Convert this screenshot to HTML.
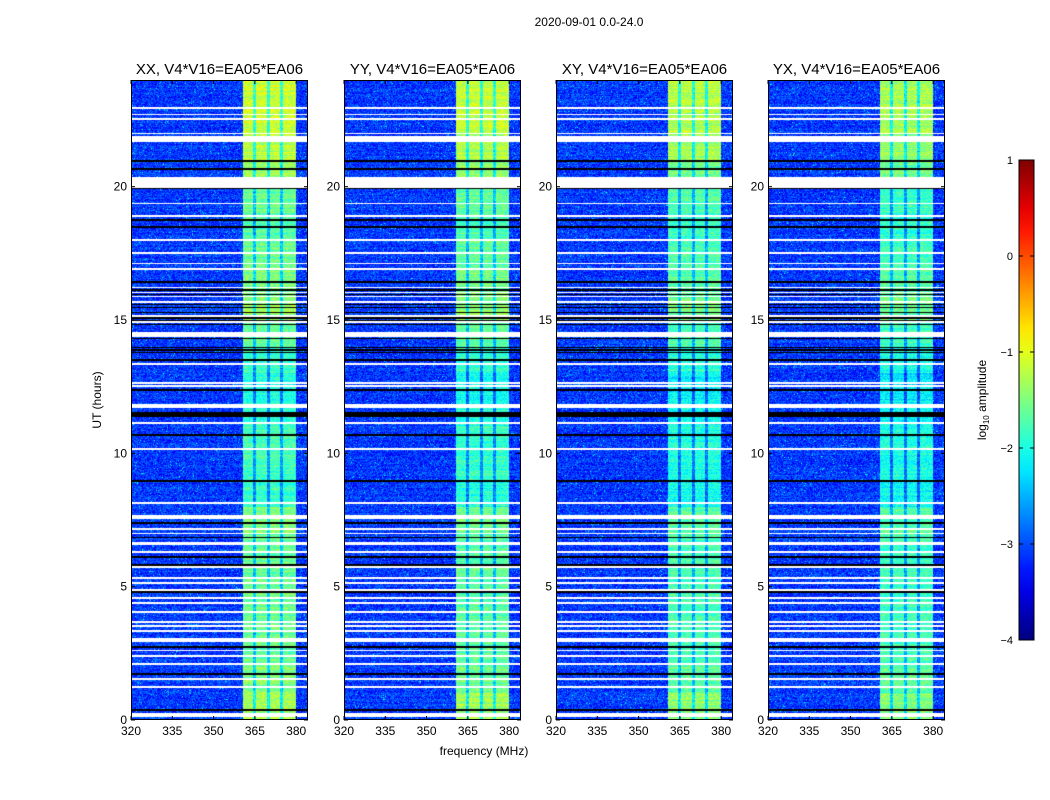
<!DOCTYPE html>
<html><head><meta charset="utf-8"><style>
body{margin:0;background:#fff;width:1050px;height:800px;overflow:hidden;font-family:"Liberation Sans",sans-serif;}
svg text{font-family:"Liberation Sans",sans-serif;}
canvas{position:absolute;}
</style></head><body>
<div id="wrap" style="position:relative;width:1050px;height:800px;">
<svg id="svg" width="1050" height="800" style="position:absolute;left:0;top:0"></svg>
</div>
<script>
// ---- data ----
const panelTitles = ["XX, V4*V16=EA05*EA06","YY, V4*V16=EA05*EA06","XY, V4*V16=EA05*EA06","YX, V4*V16=EA05*EA06"];
const xTicks = [320,335,350,365,380];
const yTicks = [0,5,10,15,20];
const cbTicks = [1,0,-1,-2,-3,-4];
const bandEdges = [360.8,380];
const bandStripes = [364.9,370,374.7];
// hourly band level (log10 amplitude), hours 0..23
const bandLevel = [-1.3,-1.5,-1.6,-1.6,-1.6,-1.6,-1.6,-1.5,-1.9,-1.8,-1.8,-1.9,-2.0,-1.8,-1.6,-1.4,-1.5,-1.6,-1.7,-1.6,-1.4,-1.2,-1.1,-1.1];
const panelOffset = [0,-0.05,-0.15,-0.2];
const bgLevel = -3.1;
// flagged (white) time ranges [start,end] hours
const whiteRows = [[22.9,22.97],[22.68,22.74],[22.51,22.57],[21.97,22.03],[21.84,21.9],[21.76,21.81],[21.68,21.74],[20.15,20.35],[19.94,20.12],[19.34,19.4],[18.88,18.94],[17.97,18.03],[17.49,17.55],[17.09,17.15],[16.88,16.94],[16.2,16.25],[16.0,16.05],[15.85,15.9],[15.65,15.7],[15.12,15.17],[14.9,14.95],[14.37,14.56],[13.32,13.38],[12.61,12.67],[12.49,12.55],[11.78,11.84],[11.71,11.77],[11.1,11.16],[10.13,10.19],[8.1,8.16],[7.55,7.7],[7.13,7.19],[6.97,7.03],[6.57,6.67],[6.27,6.33],[5.71,5.77],[5.29,5.35],[5.11,5.17],[4.84,4.9],[4.54,4.6],[4.36,4.42],[4.02,4.08],[3.64,3.7],[3.49,3.55],[3.31,3.37],[2.94,3.09],[2.57,2.63],[2.37,2.43],[2.07,2.13],[1.5,1.56],[1.21,1.27],[0.12,0.28]];
// black (zero) time ranges
const blackRows = [[20.94,21.0],[20.63,20.69],[19.9,19.96],[18.72,18.8],[18.46,18.52],[16.4,16.47],[16.1,16.15],[15.92,15.96],[15.55,15.6],[15.45,15.5],[15.25,15.3],[15.15,15.2],[15.05,15.1],[14.95,15.0],[14.82,14.86],[14.27,14.32],[13.95,14.0],[13.85,13.9],[13.75,13.8],[13.47,13.53],[12.34,12.4],[11.36,11.55],[10.66,10.72],[8.93,8.99],[7.35,7.41],[6.82,6.88],[6.08,6.14],[5.78,5.84],[4.77,4.83],[2.71,2.77],[1.7,1.76],[0.34,0.4]];
// ---- geometry ----
const panelLeft = [131,344,556,768], PW=177, PT=80, PB=720;
const fMin=320, fMax=384.3, tMin=0, tMax=24;
const xs = (f,i)=> panelLeft[i] + (f-fMin)/(fMax-fMin)*PW;
const ys = h => PB - (h-tMin)/(tMax-tMin)*(PB-PT);
const cbX=1019, cbW=15, cbTop=160, cbBot=640, vMin=-4, vMax=1;
const cbY = v => cbBot - (v-vMin)/(vMax-vMin)*(cbBot-cbTop);

function jet(t){t=Math.max(0,Math.min(1,t));
  const c=x=>Math.max(0,Math.min(1,x));
  const r=c(1.5-Math.abs(4*t-3)), g=c(1.5-Math.abs(4*t-2)), b=c(1.5-Math.abs(4*t-1));
  return [r*255|0,g*255|0,b*255|0];}
function hash(a,b,c){let h=(a*374761393+b*668265263+c*2246822519)|0;h=(h^(h>>>13))*1274126177|0;return ((h^(h>>>16))>>>0)/4294967295;}
const inRanges=(h,arr)=>arr.some(r=>h>=r[0]&&h<=r[1]);

const wrap=document.getElementById('wrap');
const svg=document.getElementById('svg');
const NS='http://www.w3.org/2000/svg';
function el(tag,attrs,txt){const e=document.createElementNS(NS,tag);for(const k in attrs)e.setAttribute(k,attrs[k]);if(txt!==undefined)e.textContent=txt;svg.appendChild(e);return e;}

panelLeft.forEach((L,i)=>{
  const cv=document.createElement('canvas');
  
  
  cv.width=PW;cv.height=PB-PT;cv.style.left=L+'px';cv.style.top=PT+'px';
  wrap.insertBefore(cv,svg);
  const ctx=cv.getContext('2d');const img=ctx.createImageData(PW,PB-PT);
  for(let y=0;y<PB-PT;y++){
    const h=tMax-(y+0.5)/(PB-PT)*(tMax-tMin);
    const white=inRanges(h,whiteRows), black=inRanges(h,blackRows);
    const hi=Math.min(23,Math.floor(h));
    const rowN=hash(y,7,i)-0.5;
    for(let x=0;x<PW;x++){
      const f=fMin+(x+0.5)/PW*(fMax-fMin);
      let rgb;
      if(white) rgb=[255,255,255];
      else if(black) rgb=[0,0,0];
      else{
        let v;const n=hash(x,y,i);
        if(f>=bandEdges[0]&&f<=bandEdges[1]){
          v=bandLevel[hi]+panelOffset[i]+(n-0.5)*0.6+rowN*0.3;
          if(bandStripes.some(s=>Math.abs(f-s)<0.5)) v-=0.8;
        } else v=bgLevel+(n-0.5)*0.8+rowN*0.2+(n>0.985?0.6:0);
        rgb=jet((v-vMin)/(vMax-vMin));
      }
      const k=(y*PW+x)*4;img.data[k]=rgb[0];img.data[k+1]=rgb[1];img.data[k+2]=rgb[2];img.data[k+3]=255;
    }
  }
  ctx.putImageData(img,0,0);
  const fr=el('rect',{x:L+0.5,y:PT+0.5,width:PW-1,height:PB-PT-1,fill:'none',stroke:'#000','stroke-width':1});
  
  
  const t=el('text',{x:L+PW/2,y:74,'text-anchor':'middle','font-size':15},panelTitles[i]);
  
  
  xTicks.forEach(v=>{const x=xs(v,i);
    el('line',{x1:x,x2:x,y1:PB,y2:PB-4,stroke:'#000'});el('line',{x1:x,x2:x,y1:PT,y2:PT+4,stroke:'#000'});
    const tl=el('text',{x:x,y:PB+15,'text-anchor':'middle','font-size':12},v);
    
    });
  yTicks.forEach(v=>{const y=ys(v);
    el('line',{x1:L,x2:L+4,y1:y,y2:y,stroke:'#000'});el('line',{x1:L+PW,x2:L+PW-4,y1:y,y2:y,stroke:'#000'});
    const tl=el('text',{x:L-4,y:y+4,'text-anchor':'end','font-size':12},v);
    
    });
});
const st=el('text',{x:589,y:26,'text-anchor':'middle','font-size':12},'2020-09-01 0.0-24.0');


const yl=el('text',{x:101,y:400,'text-anchor':'middle','font-size':12,transform:'rotate(-90 101 400)'},'UT (hours)');


const xl=el('text',{x:484,y:755,'text-anchor':'middle','font-size':12},'frequency (MHz)');


// colorbar
const defs=el('defs',{});const lg=document.createElementNS(NS,'linearGradient');
lg.setAttribute('id','jetg');lg.setAttribute('x1','0');lg.setAttribute('y1','1');lg.setAttribute('x2','0');lg.setAttribute('y2','0');
for(let s=0;s<=20;s++){const c=jet(s/20);const st2=document.createElementNS(NS,'stop');st2.setAttribute('offset',s/20);st2.setAttribute('stop-color','rgb('+c.join(',')+')');lg.appendChild(st2);}
defs.appendChild(lg);
const cb=el('rect',{x:cbX,y:cbTop,width:cbW,height:cbBot-cbTop,fill:'url(#jetg)',stroke:'#000'});


cbTicks.forEach(v=>{const y=cbY(v);
  el('line',{x1:cbX,x2:cbX+4,y1:y,y2:y,stroke:'#000'});el('line',{x1:cbX+cbW,x2:cbX+cbW-4,y1:y,y2:y,stroke:'#000'});
  const tl=el('text',{x:1013,y:y+4,'text-anchor':'end','font-size':11},v<0?'\u2212'+(-v):v);
  
  });
const cl=el('text',{x:986,y:400,'text-anchor':'middle','font-size':12,transform:'rotate(-90 986 400)'});


cl.innerHTML='log<tspan font-size="8" dy="3">10</tspan><tspan dy="-3"> amplitude</tspan>';
</script>
</body></html>
